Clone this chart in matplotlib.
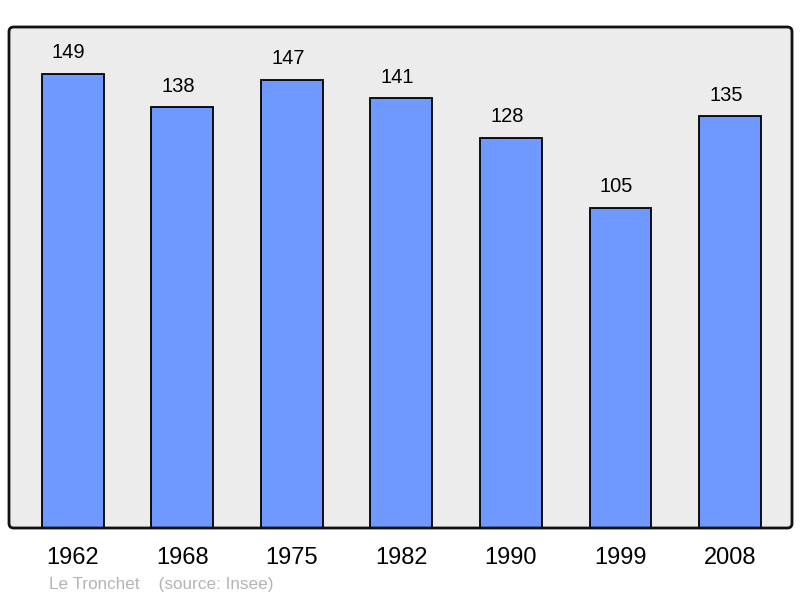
import matplotlib
matplotlib.use("Agg")
import matplotlib.pyplot as plt
from matplotlib.patches import FancyBboxPatch

plt.rcParams['font.family'] = ['Liberation Sans', 'DejaVu Sans']

# population per census year
years = ["1962", "1968", "1975", "1982", "1990", "1999", "2008"]
population = [149, 138, 147, 141, 128, 105, 135]

fig = plt.figure(figsize=(8, 5.98), dpi=100)
# axes box: x 9..792, y 27..528 in pixels
ax = fig.add_axes([9/800, 1 - 528/598, 783/800, 501/598])
ax.set_facecolor("#ececec")

pos = list(range(len(years)))
ax.bar(pos, population, width=0.566, color="#7099ff", edgecolor="black",
       linewidth=1.3, zorder=2)

# labels sit a bit left of the bar centre in the original
for x, v in zip(pos, population):
    ax.annotate(str(v), (x, v), xytext=(-3, 15), textcoords="offset points",
                ha="center", va="center", fontsize=14.5)

ax.set_xlim(-0.584, 6.566)
ax.set_ylim(0, 164.3)
ax.set_xticks(pos)
ax.set_xticklabels(years, fontsize=17)
ax.tick_params(axis="x", length=0, pad=14)
ax.set_yticks([])
for s in ax.spines.values():
    s.set_visible(False)

frame = FancyBboxPatch((0, 0), 1, 1, boxstyle="round,pad=0,rounding_size=0.006",
                       transform=ax.transAxes, fill=False, edgecolor="#111111",
                       linewidth=2, clip_on=False, zorder=5,
                       mutation_aspect=783/501)
ax.add_patch(frame)

fig.text(49/800, 1 - 584/598, "Le Tronchet    (source: Insee)", fontsize=12.3,
         color="#b4b4b4", va="center", ha="left")

fig.savefig("out.png", dpi=100)
